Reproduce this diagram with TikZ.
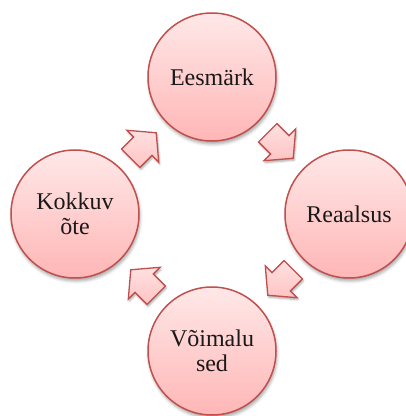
\documentclass[tikz,border=0pt]{standalone}
\usepackage{fontspec}
\setmainfont{Liberation Serif}
\usetikzlibrary{calc,shadows.blur}

\definecolor{rimred}{RGB}{192,80,77}
\definecolor{pinktop}{RGB}{255,232,232}
\definecolor{pinkbot}{RGB}{255,182,182}
\definecolor{arrowtop}{RGB}{255,225,225}
\definecolor{arrowbot}{RGB}{255,195,195}

\tikzset{
  stagecircle/.style={circle, minimum size=128pt, inner sep=0pt,
    draw=rimred, line width=1.5pt, top color=pinktop, bottom color=pinkbot,
    align=center, text=black!90, font=\fontsize{24}{25.5}\selectfont,
    blur shadow={shadow xshift=1pt, shadow yshift=-3pt,
      shadow blur radius=3pt, shadow opacity=35}},
  cyclearrow/.style={draw=rimred, line width=1.3pt, line join=miter,
    top color=arrowtop, bottom color=arrowbot,
    blur shadow={shadow xshift=1pt, shadow yshift=-2pt,
      shadow blur radius=2pt, shadow opacity=35}},
  pics/blockarrow/.style={code={
    \path[cyclearrow] (-18,13) -- (-1,13) -- (-1,22.5) -- (18,0)
      -- (-1,-22.5) -- (-1,-13) -- (-18,-13) -- cycle;}}
}

\begin{document}
\begin{tikzpicture}[x=1pt,y=1pt]
  \useasboundingbox (0,0) rectangle (406,416);

  % the four stages of the cycle
  \node[stagecircle] (goal)    at (212,339) {Eesmärk};
  \node[stagecircle] (reality) at (349,202) {Reaalsus};
  \node[stagecircle] (options) at (212,65)  {Võimalu\\sed};
  \node[stagecircle] (summary) at (75,202)  {Kokkuv\\õte};

  % block arrows between neighbouring stages, clockwise
  \pic[rotate=-45]  at ($(goal)!0.5!(reality)$)    {blockarrow};
  \pic[rotate=-135] at ($(reality)!0.5!(options)$) {blockarrow};
  \pic[rotate=135]  at ($(options)!0.5!(summary)$) {blockarrow};
  \pic[rotate=45]   at ($(summary)!0.5!(goal)$)    {blockarrow};
\end{tikzpicture}
\end{document}
